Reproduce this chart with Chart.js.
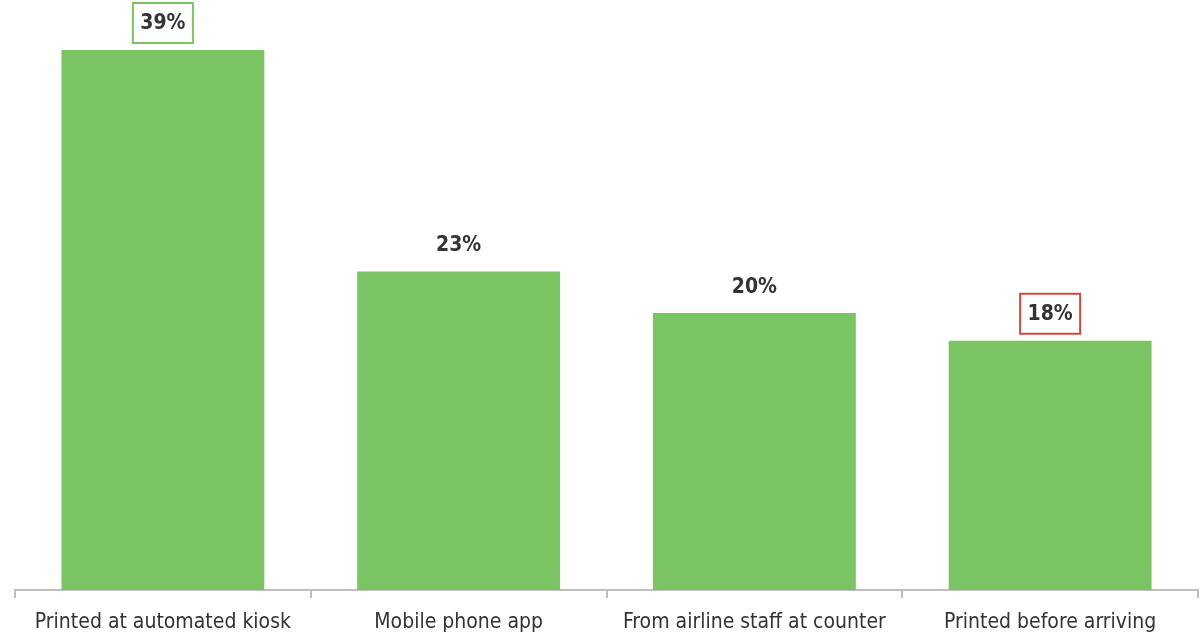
<!DOCTYPE html>
<html>
<head>
<meta charset="utf-8">
<script src="https://cdn.jsdelivr.net/npm/chart.js@4"></script>
<style>
  html, body { margin: 0; padding: 0; background: #fff; }
  #wrap { width: 1201px; height: 637px; }
</style>
</head>
<body>
<div id="wrap"><canvas id="myChart"></canvas></div>
<script>
const categories = ["Printed at automated kiosk", "Mobile phone app", "From airline staff at counter", "Printed before arriving"];
const shares = [39, 23, 20, 18];
const boxColors = ["#7AC463", null, null, "#D04A3C"];

const fontFamily = "'Liberation Sans Narrow', 'Arial Narrow', 'DejaVu Sans', sans-serif";

// value labels above bars, some of them framed
const valueLabels = {
  id: 'valueLabels',
  afterDatasetsDraw(chart) {
    const c = chart.ctx;
    const meta = chart.getDatasetMeta(0);
    c.save();
    c.font = "bold condensed 21px " + fontFamily;
    c.textAlign = 'center';
    c.textBaseline = 'middle';
    meta.data.forEach(function (bar, i) {
      const y = bar.y - 27;
      if (boxColors[i]) {
        c.strokeStyle = boxColors[i];
        c.lineWidth = 2;
        c.strokeRect(bar.x - 30, y - 20, 60, 40);
      }
      c.fillStyle = '#333333';
      c.fillText(shares[i] + '%', bar.x, y + 1);
    });
    c.restore();
  }
};

const ctx = document.getElementById('myChart');
new Chart(ctx, {
  type: 'bar',
  data: {
    labels: categories,
    datasets: [{
      data: shares,
      backgroundColor: '#7AC463',
      categoryPercentage: 1,
      barPercentage: 0.686
    }]
  },
  options: {
    responsive: true,
    maintainAspectRatio: false,
    animation: false,
    layout: { padding: { left: 15, right: 3, top: 50, bottom: 0 } },
    plugins: { legend: { display: false }, tooltip: { enabled: false } },
    scales: {
      x: {
        afterFit(scale) { scale.height = 47; },
        grid: { drawOnChartArea: false, drawTicks: true, tickLength: 8, color: '#BFBFBF', lineWidth: 2, offset: true },
        border: { color: '#BFBFBF', width: 2 },
        ticks: {
          color: '#333333', padding: 12, maxRotation: 0, minRotation: 0, autoSkip: false,
          font: { family: fontFamily, size: 21, weight: 'normal condensed', lineHeight: 1.2 }
        }
      },
      y: { display: false, min: 0, max: 39 }
    }
  },
  plugins: [valueLabels]
});
</script>
</body>
</html>
